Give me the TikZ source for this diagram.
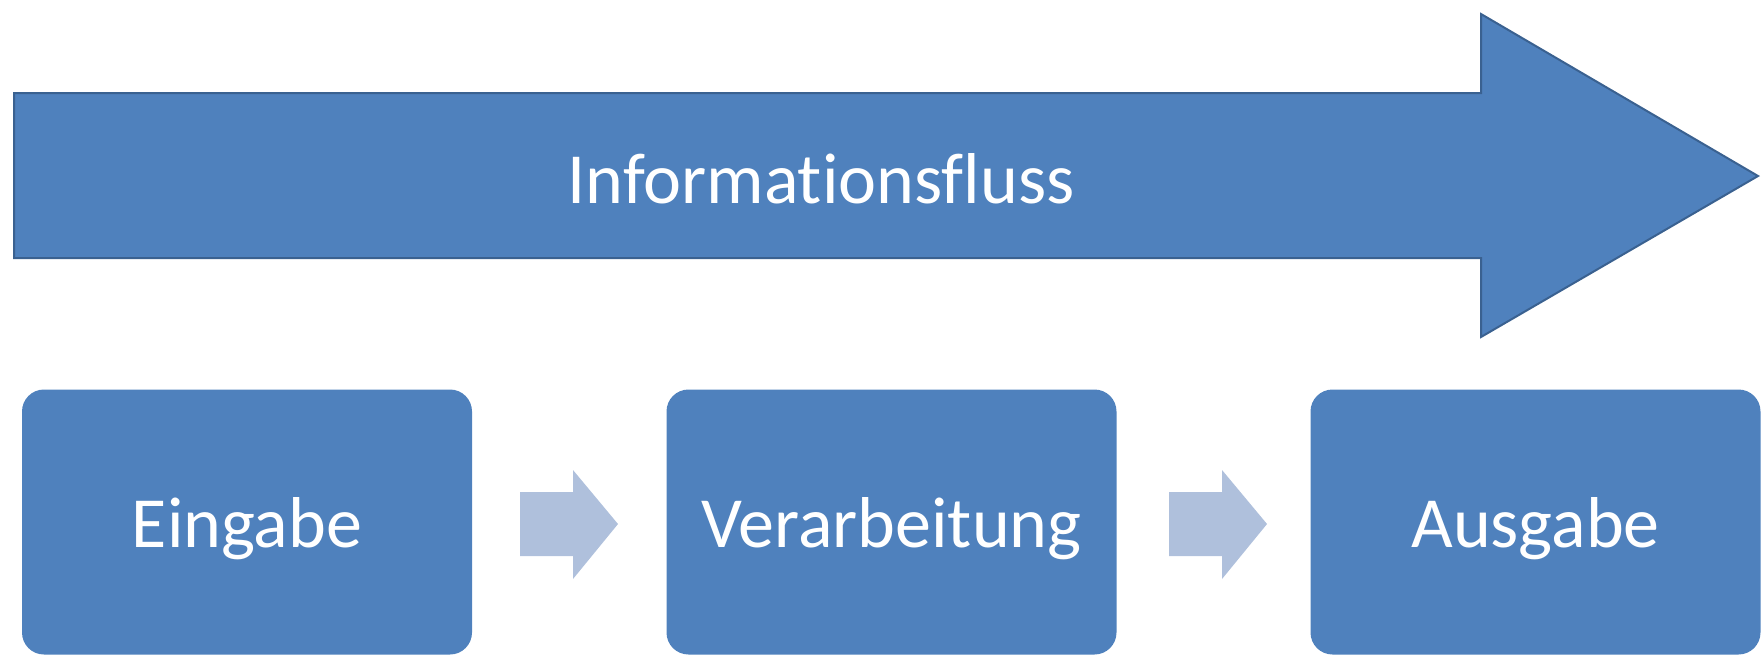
\documentclass[tikz,border=0pt]{standalone}
\usepackage{fontspec}
\setmainfont{Carlito}[Ligatures={NoCommon,NoRare}]
\definecolor{blueA}{HTML}{4F81BD}
\definecolor{blueEdge}{HTML}{3A6190}
\definecolor{blueLight}{HTML}{AFC0DC}
\begin{document}
\begin{tikzpicture}[x=1pt,y=-1pt,
  stepbox/.style={rectangle, rounded corners=22pt, fill=blueA, draw=none,
    minimum width=450pt, minimum height=265pt, text=white,
    font=\fontsize{72}{80}\selectfont, text height=46pt, text depth=0pt, inner sep=0pt},
  bigarrow/.style={fill=blueA, draw=blueEdge, line width=2pt, line join=miter},
  smallarrow/.style={fill=blueLight, draw=none},
  label/.style={text=white, font=\fontsize{72}{80}\selectfont, text height=46pt, text depth=0pt, inner sep=0pt}]
\useasboundingbox (0,0) rectangle (1762,657);
% big arrow
\draw[bigarrow] (14,93) -- (1481,93) -- (1481,14) -- (1758,176) -- (1481,337) -- (1481,258) -- (14,258) -- cycle;
\node[label] (flow) at (821,180) {Informationsfluss};
% boxes
\node[stepbox] (in) at (247,522) {\raisebox{-2pt}{Eingabe}};
\node[stepbox] (proc) at (891.5,522) {\raisebox{-2pt}{Verarbeitung}};
\node[stepbox] (out) at (1535.5,522) {\raisebox{-2pt}{Ausgabe}};
% small arrows
\fill[smallarrow] (520,492) -- (573,492) -- (573,470) -- (618,524) -- (573,579) -- (573,556) -- (520,556) -- cycle;
\fill[smallarrow] (1169,492) -- (1222,492) -- (1222,470) -- (1267,524) -- (1222,579) -- (1222,556) -- (1169,556) -- cycle;
\end{tikzpicture}
\end{document}
